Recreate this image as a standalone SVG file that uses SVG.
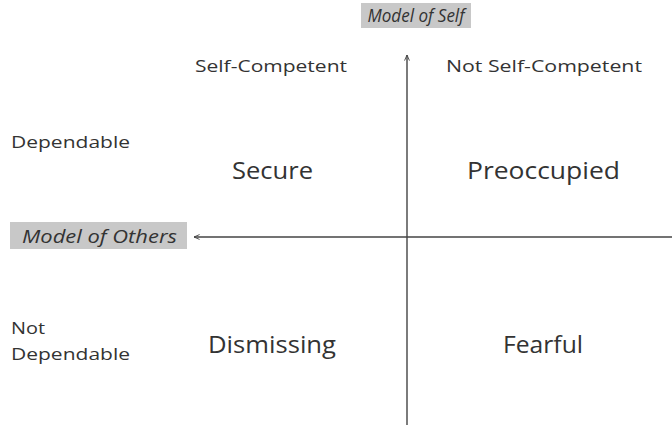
<svg xmlns="http://www.w3.org/2000/svg" width="672" height="425" viewBox="0 0 672 425">
  <style>
    .lbl { font-family: "Open Sans", "Noto Sans", sans-serif; fill: #333333; }
    .hdr { font-size: 16px; }
    .quad { font-size: 23px; text-anchor: middle; }
    .side { font-size: 15.5px; }
    .axis-title { font-family: "Open Sans", "Noto Sans", sans-serif; font-style: italic; fill: #333333; font-size: 17.5px; text-anchor: middle; }
    .axis-box { fill: #c8c8c8; }
    .axis { stroke: #444444; stroke-width: 1.4; fill: none; }
  </style>
  <defs>
    <marker id="arrow" viewBox="0 0 10 10" refX="9" refY="5" markerWidth="7" markerHeight="7" orient="auto-start-reverse" markerUnits="userSpaceOnUse">
      <path d="M1,1.5 L9,5 L1,8.5" fill="none" stroke="#444444" stroke-width="1.3"/>
    </marker>
  </defs>
  <rect width="672" height="425" fill="#ffffff"/>

  <!-- axes -->
  <g id="connectors">
    <line class="axis" x1="407" y1="425" x2="407" y2="55" marker-end="url(#arrow)"/>
    <line class="axis" x1="672" y1="237" x2="194" y2="237" marker-end="url(#arrow)"/>
  </g>

  <!-- axis titles -->
  <g id="model-of-self">
    <rect class="axis-box" x="361" y="3" width="110" height="25"/>
    <text class="axis-title" x="416" y="22" textLength="97" lengthAdjust="spacingAndGlyphs">Model of Self</text>
  </g>
  <g id="model-of-others">
    <rect class="axis-box" x="10" y="222" width="177" height="27"/>
    <text class="axis-title" x="99.5" y="243" textLength="155" lengthAdjust="spacingAndGlyphs">Model of Others</text>
  </g>

  <!-- column headers -->
  <g id="self-competent">
    <text class="lbl hdr" x="195" y="72" textLength="152" lengthAdjust="spacingAndGlyphs">Self-Competent</text>
  </g>
  <g id="not-self-competent">
    <text class="lbl hdr" x="446" y="72" textLength="196" lengthAdjust="spacingAndGlyphs">Not Self-Competent</text>
  </g>

  <!-- row headers -->
  <g id="dependable">
    <text class="lbl side" x="11" y="148" textLength="119" lengthAdjust="spacingAndGlyphs">Dependable</text>
  </g>
  <g id="not-dependable">
    <text class="lbl side" x="11" y="334" textLength="34" lengthAdjust="spacingAndGlyphs">Not</text>
    <text class="lbl side" x="11" y="360" textLength="119" lengthAdjust="spacingAndGlyphs">Dependable</text>
  </g>

  <!-- quadrants -->
  <g id="secure">
    <text class="lbl quad" x="272.5" y="179" textLength="81" lengthAdjust="spacingAndGlyphs">Secure</text>
  </g>
  <g id="preoccupied">
    <text class="lbl quad" x="543.5" y="179" textLength="153" lengthAdjust="spacingAndGlyphs">Preoccupied</text>
  </g>
  <g id="dismissing">
    <text class="lbl quad" x="272" y="353" textLength="128" lengthAdjust="spacingAndGlyphs">Dismissing</text>
  </g>
  <g id="fearful">
    <text class="lbl quad" x="543" y="353" textLength="80" lengthAdjust="spacingAndGlyphs">Fearful</text>
  </g>
</svg>
